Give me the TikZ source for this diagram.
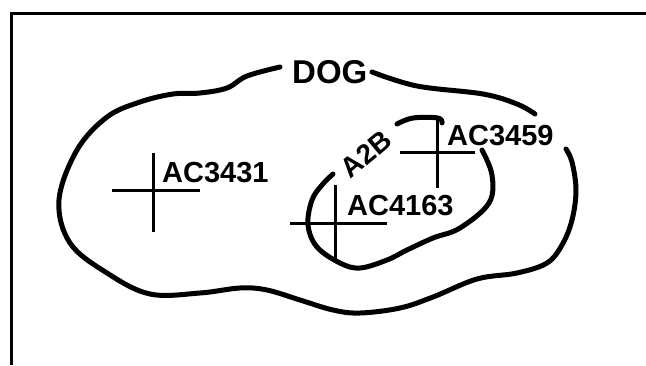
\documentclass[tikz,border=0pt]{standalone}
\usepackage{fontspec}
\setmainfont{Liberation Sans}
\begin{document}
\begin{tikzpicture}[x=1pt,y=-1pt,
  blob/.style={line width=5pt,line cap=round,line join=round},
  cross/.style={line width=3pt},
  frame/.style={line width=3pt},
  lbl/.style={inner sep=0pt,anchor=base west,font=\bfseries\fontsize{29}{29}\selectfont}]
\useasboundingbox (0,0) rectangle (646,365);
% frame (top and left edges only)
\coordinate (ftr) at (646,13);
\coordinate (ftl) at (11,13);
\coordinate (fbl) at (11,365);
\draw[frame] (ftr) -- (ftl) -- (fbl);
% labels
\node[lbl,font=\bfseries\fontsize{33}{33}\selectfont] (dog) at (292,83) {DOG};
\node[lbl] (t3431) at (162,182) {AC3431};
\node[lbl] (t4163) at (347,215) {AC4163};
\node[lbl] (t3459) at (447,145) {AC3459};
\node[inner sep=0pt,font=\bfseries\fontsize{28}{28}\selectfont,rotate=40] (a2b) at (366,154) {A2B};
% outer blob (DOG)
\draw[blob] plot[smooth,tension=0.6] coordinates {
  (372,72) (417,86) (483,94) (517,104) (535,114)};
\draw[blob] plot[smooth,tension=0.6] coordinates {
  (280,67) (247,76) (227,88) (200,93) (173,94) (140,102) (107,117) (77,150)
  (59,200) (70,243) (107,273) (150,294) (200,293) (240,288) (267,290)
  (300,300) (333,310) (360,313) (400,308) (433,297) (477,279) (517,273)
  (547,263) (562,245) (572,220) (576,190) (572,162) (566,149)};
% inner blob (A2B)
\draw[blob] plot[smooth,tension=0.6] coordinates {
  (397,124) (413,118) (438,118) (442,123)};
\draw[blob] plot[smooth,tension=0.6] coordinates {
  (482,150) (492,175) (489,203) (460,228) (433,238) (407,250) (387,260)
  (360,268) (340,263) (317,247) (308,225) (312,200) (322,185) (333,174)};
% crosshairs
\coordinate (c1w) at (112,190); \coordinate (c1e) at (200,190);
\coordinate (c1n) at (153,153); \coordinate (c1s) at (153,232);
\draw[cross] (c1w) -- (c1e); \draw[cross] (c1n) -- (c1s);
\coordinate (c2w) at (290,223); \coordinate (c2e) at (387,223);
\coordinate (c2n) at (335,185); \coordinate (c2s) at (335,259);
\draw[cross] (c2w) -- (c2e); \draw[cross] (c2n) -- (c2s);
\coordinate (c3w) at (400,152); \coordinate (c3e) at (475,152);
\coordinate (c3n) at (437,118); \coordinate (c3s) at (437,188);
\draw[cross] (c3w) -- (c3e); \draw[cross] (c3n) -- (c3s);
\end{tikzpicture}
\end{document}
